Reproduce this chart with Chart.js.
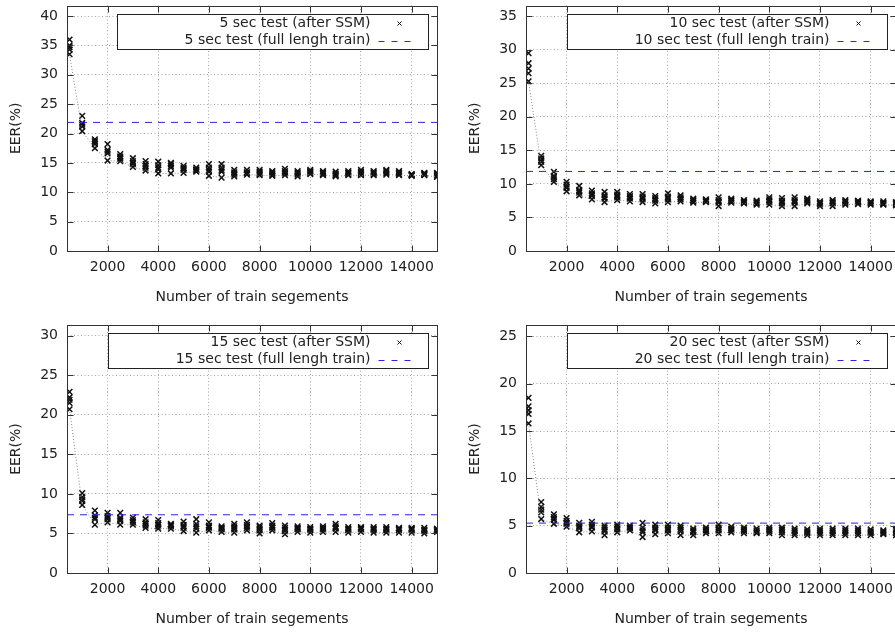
<!DOCTYPE html>
<html>
<head>
<meta charset="utf-8">
<script src="https://cdn.jsdelivr.net/npm/chart.js@4"></script>
<style>
html, body { margin: 0; padding: 0; background: #fff; overflow: hidden; width: 895px; height: 632px; }
canvas { position: absolute; }
</style>
</head>
<body>
<canvas id="chart5" width="448" height="310" style="left:0;top:0"></canvas>
<canvas id="chart10" width="448" height="310" style="left:459px;top:0"></canvas>
<canvas id="chart15" width="448" height="322" style="left:0;top:310px"></canvas>
<canvas id="chart20" width="448" height="322" style="left:459px;top:310px"></canvas>
<script>
// number of train segments (x of every cluster)
const seg_counts = [500, 1000, 1500, 2000, 2500, 3000, 3500, 4000, 4500, 5000,
    5500, 6000, 6500, 7000, 7500, 8000, 8500, 9000, 9500, 10000,
    10500, 11000, 11500, 12000, 12500, 13000, 13500, 14000, 14500, 15000];
const x_ticks = [2000, 4000, 6000, 8000, 10000, 12000, 14000];
const x_min = 400;
const x_max = 15000;

// 5 sec test, EER after SSM (several runs per segment count)
const eer5_run1 = [33.5, 20.4, 17.5, 15.4, 15.3, 14.3, 13.7, 13.2, 13.2, 13.3, 13.5, 12.8, 12.5, 12.7, 13.0, 12.9, 12.8, 12.9, 12.7, 13.1, 12.9, 12.7, 12.9, 12.9, 12.9, 13.0, 12.9, 12.8, 12.9, 12.6];
const eer5_run2 = [34.3, 21.2, 18.2, 16.6, 15.7, 14.8, 14.2, 13.9, 14.2, 13.8, 13.7, 13.5, 13.5, 13.0, 13.2, 13.1, 13.0, 13.2, 13.0, 13.3, 13.1, 12.9, 13.1, 13.1, 13.1, 13.2, 13.1, 12.9, 13.0, 12.8];
const eer5_run3 = [35.0, 21.8, 18.7, 17.2, 16.1, 15.3, 14.8, 14.6, 14.8, 14.2, 13.9, 14.2, 14.2, 13.4, 13.4, 13.5, 13.4, 13.6, 13.4, 13.6, 13.4, 13.2, 13.4, 13.5, 13.4, 13.6, 13.4, 13.0, 13.2, 13.1];
const eer5_run4 = [36.0, 23.0, 19.0, 18.2, 16.5, 15.8, 15.3, 15.2, 15.0, 14.5, 14.2, 14.8, 14.8, 13.8, 13.8, 13.8, 13.6, 14.0, 13.6, 13.8, 13.6, 13.5, 13.6, 13.8, 13.6, 13.8, 13.6, 13.1, 13.3, 13.3];
const eer5_run5 = [34.7, 21.5, 18.5, 16.9, 15.9, 15.0, 14.5, 14.2, 14.5, 14.0, 13.8, 13.8, 13.8, 13.2, 13.3, 13.3, 13.2, 13.4, 13.2, 13.5, 13.3, 13.0, 13.3, 13.3, 13.3, 13.4, 13.3, 13.0, 13.1, 13.0];
const eer5_full = 21.9;
const eer5_ymax = 41.8;
const eer5_yticks = [0, 5, 10, 15, 20, 25, 30, 35, 40];

// 10 sec test
const eer10_run1 = [25.3, 12.8, 10.3, 8.9, 8.3, 7.7, 7.3, 7.6, 7.4, 7.3, 7.1, 7.3, 7.4, 7.2, 7.3, 6.7, 7.2, 7.1, 6.9, 6.9, 6.7, 6.7, 7.1, 6.7, 6.7, 6.9, 7.0, 6.9, 6.9, 6.8];
const eer10_run2 = [26.5, 13.3, 10.7, 9.4, 8.7, 8.2, 7.8, 8.0, 7.8, 7.7, 7.5, 7.7, 7.7, 7.4, 7.4, 7.2, 7.4, 7.2, 7.1, 7.3, 7.1, 7.2, 7.3, 7.0, 7.1, 7.1, 7.2, 7.1, 7.0, 7.0];
const eer10_run3 = [28.0, 13.8, 11.2, 9.9, 9.1, 8.6, 8.3, 8.4, 8.2, 8.1, 7.9, 8.1, 8.0, 7.6, 7.6, 7.6, 7.6, 7.4, 7.3, 7.7, 7.5, 7.6, 7.6, 7.2, 7.4, 7.4, 7.4, 7.3, 7.2, 7.2];
const eer10_run4 = [29.5, 14.2, 11.8, 10.3, 9.7, 9.0, 8.8, 8.8, 8.5, 8.5, 8.2, 8.6, 8.3, 7.8, 7.7, 8.0, 7.8, 7.6, 7.5, 8.0, 7.9, 8.0, 7.8, 7.4, 7.6, 7.6, 7.5, 7.4, 7.4, 7.3];
const eer10_run5 = [27.2, 13.5, 11.0, 9.6, 8.9, 8.4, 8.0, 8.2, 8.0, 7.9, 7.7, 7.9, 7.8, 7.5, 7.5, 7.4, 7.5, 7.3, 7.2, 7.5, 7.3, 7.4, 7.5, 7.1, 7.2, 7.3, 7.3, 7.2, 7.1, 7.1];
const eer10_full = 11.86;
const eer10_ymax = 36.6;
const eer10_yticks = [0, 5, 10, 15, 20, 25, 30, 35];

// 15 sec test
const eer15_run1 = [20.7, 8.6, 6.1, 6.4, 6.1, 6.1, 5.7, 5.6, 5.6, 5.3, 5.1, 5.4, 5.2, 5.1, 5.4, 5.0, 5.4, 4.9, 5.2, 5.1, 5.2, 5.2, 5.1, 5.2, 5.1, 5.1, 5.1, 5.1, 5.0, 5.2];
const eer15_run2 = [21.5, 9.1, 6.8, 6.8, 6.6, 6.4, 6.0, 5.9, 5.9, 5.7, 5.6, 5.7, 5.5, 5.5, 5.7, 5.4, 5.7, 5.3, 5.5, 5.4, 5.5, 5.6, 5.4, 5.5, 5.4, 5.4, 5.4, 5.4, 5.3, 5.4];
const eer15_run3 = [22.2, 9.6, 7.3, 7.2, 7.0, 6.7, 6.4, 6.3, 6.1, 6.1, 6.2, 6.0, 5.7, 5.9, 6.1, 5.8, 6.0, 5.7, 5.7, 5.6, 5.7, 5.9, 5.6, 5.7, 5.6, 5.6, 5.6, 5.6, 5.5, 5.5];
const eer15_run4 = [22.9, 10.1, 7.9, 7.6, 7.6, 7.0, 6.8, 6.7, 6.2, 6.5, 6.8, 6.4, 5.9, 6.2, 6.4, 6.0, 6.3, 6.0, 5.9, 5.8, 5.9, 6.2, 5.8, 5.8, 5.8, 5.8, 5.7, 5.7, 5.7, 5.6];
const eer15_run5 = [21.9, 9.3, 7.0, 7.0, 6.8, 6.5, 6.2, 6.1, 6.0, 5.9, 5.9, 5.8, 5.6, 5.7, 5.9, 5.6, 5.8, 5.5, 5.6, 5.5, 5.6, 5.7, 5.5, 5.6, 5.5, 5.5, 5.5, 5.5, 5.4, 5.4];
const eer15_full = 7.36;
const eer15_ymax = 31.35;
const eer15_yticks = [0, 5, 10, 15, 20, 25, 30];

// 20 sec test
const eer20_run1 = [15.8, 5.7, 5.2, 4.9, 4.3, 4.4, 4.0, 4.3, 4.5, 3.8, 4.1, 4.2, 4.0, 4.0, 4.2, 4.2, 4.3, 4.2, 4.2, 4.2, 4.0, 4.0, 4.0, 4.0, 4.0, 4.0, 4.0, 4.0, 4.1, 4.0];
const eer20_run2 = [16.8, 6.4, 5.6, 5.2, 4.7, 4.8, 4.4, 4.6, 4.7, 4.3, 4.5, 4.5, 4.4, 4.3, 4.4, 4.5, 4.5, 4.4, 4.3, 4.4, 4.3, 4.2, 4.2, 4.2, 4.2, 4.2, 4.2, 4.2, 4.2, 4.2];
const eer20_run3 = [17.6, 7.0, 5.9, 5.5, 5.0, 5.1, 4.8, 4.9, 4.8, 4.8, 4.8, 4.8, 4.8, 4.5, 4.6, 4.8, 4.7, 4.6, 4.5, 4.6, 4.6, 4.5, 4.4, 4.5, 4.5, 4.5, 4.5, 4.4, 4.4, 4.5];
const eer20_run4 = [18.5, 7.5, 6.2, 5.8, 5.3, 5.4, 5.0, 5.1, 5.0, 5.3, 5.1, 5.1, 5.0, 4.7, 4.8, 5.1, 4.9, 4.8, 4.7, 4.8, 4.8, 4.7, 4.6, 4.7, 4.7, 4.7, 4.7, 4.6, 4.5, 4.6];
const eer20_run5 = [17.2, 6.7, 5.7, 5.3, 4.9, 4.9, 4.6, 4.7, 4.8, 4.5, 4.6, 4.6, 4.6, 4.4, 4.5, 4.6, 4.6, 4.5, 4.4, 4.5, 4.5, 4.4, 4.3, 4.4, 4.4, 4.4, 4.4, 4.3, 4.3, 4.3];
const eer20_full = 5.27;
const eer20_ymax = 26.2;
const eer20_yticks = [0, 5, 10, 15, 20, 25];

const FONT = {family: 'DejaVu Sans', size: 14};
const TEXT_COLOR = '#222';

function to_points(arr) {
    return seg_counts.map((s, i) => ({x: s, y: arr[i]}));
}

// gnuplot-like frame, inward ticks and boxed legend
const gnu_plugin = {
    id: 'gnu',
    afterDatasetsDraw(chart) {
        const ctx = chart.ctx;
        const a = chart.chartArea;
        const xs = chart.scales.x, ys = chart.scales.y;
        const l = Math.round(a.left) + 0.5, r = Math.round(a.right) + 0.5;
        const t = Math.round(a.top) + 0.5, b = Math.round(a.bottom) + 0.5;
        ctx.save();
        ctx.strokeStyle = '#333';
        ctx.lineWidth = 1;
        ctx.beginPath();
        for (const tk of xs.ticks) {
            const px = Math.round(xs.getPixelForValue(tk.value)) + 0.5;
            ctx.moveTo(px, b); ctx.lineTo(px, b - 6);
            ctx.moveTo(px, t); ctx.lineTo(px, t + 6);
        }
        for (const tk of ys.ticks) {
            const py = Math.round(ys.getPixelForValue(tk.value)) + 0.5;
            ctx.moveTo(l, py); ctx.lineTo(l + 6, py);
            ctx.moveTo(r, py); ctx.lineTo(r - 6, py);
        }
        ctx.stroke();
        ctx.strokeRect(l, t, r - l, b - t);
        ctx.restore();
    },
    afterDraw(chart, args, opts) {
        const ctx = chart.ctx;
        const a = chart.chartArea;
        ctx.save();
        ctx.font = FONT.size + 'px ' + FONT.family;
        const w = Math.max(ctx.measureText(opts.labels[0]).width, ctx.measureText(opts.labels[1]).width);
        const box_r = Math.round(a.right - 9) + 0.5;
        const text_r = box_r - 58;
        const box_l = Math.round(text_r - w - 68) + 0.5;
        const box_t = Math.round(a.top + 8) + 0.5;
        const box_h = 35;
        ctx.fillStyle = '#fff';
        ctx.fillRect(box_l, box_t, box_r - box_l, box_h);
        ctx.strokeStyle = '#222';
        ctx.lineWidth = 1;
        ctx.strokeRect(box_l, box_t, box_r - box_l, box_h);
        ctx.fillStyle = TEXT_COLOR;
        ctx.textAlign = 'right';
        ctx.textBaseline = 'middle';
        const y1 = box_t + 9, y2 = box_t + 26;
        ctx.fillText(opts.labels[0], text_r, y1);
        ctx.fillText(opts.labels[1], text_r, y2);
        // point sample
        const mx = text_r + 29;
        ctx.strokeStyle = '#111';
        ctx.beginPath();
        ctx.moveTo(mx - 2, y1 - 2); ctx.lineTo(mx + 2, y1 + 2);
        ctx.moveTo(mx - 2, y1 + 2); ctx.lineTo(mx + 2, y1 - 2);
        ctx.stroke();
        // line sample
        ctx.strokeStyle = opts.line_color;
        ctx.setLineDash([6, 7]);
        ctx.beginPath();
        ctx.moveTo(text_r + 8, Math.round(y2) + 0.5);
        ctx.lineTo(text_r + 44, Math.round(y2) + 0.5);
        ctx.stroke();
        ctx.restore();
    }
};

function create_panel(chart_id, sec, runs, full, y_max, y_ticks, pad_top) {
    const line_color = '#2626e0';
    const datasets = [{
        data: [{x: x_min, y: full}, {x: x_max, y: full}],
        showLine: true,
        borderColor: line_color,
        borderWidth: 1,
        borderDash: [7, 6],
        pointRadius: 0
    }];
    runs.forEach((run, k) => {
        datasets.push({
            data: to_points(run),
            showLine: k == 0,
            borderColor: '#8a8a8a',
            borderWidth: 1,
            borderDash: [1, 2],
            pointStyle: 'crossRot',
            pointRadius: 4,
            pointBorderWidth: 1.5,
            pointBorderColor: '#111',
            pointBackgroundColor: '#111'
        });
    });
    const ctx = document.getElementById(chart_id).getContext('2d');
    return new Chart(ctx, {
        type: 'scatter',
        data: {datasets: datasets},
        plugins: [gnu_plugin],
        options: {
            responsive: false,
            animation: false,
            events: [],
            layout: {padding: {left: 0, right: 11, top: pad_top, bottom: 0}},
            plugins: {
                legend: {display: false},
                tooltip: {enabled: false},
                gnu: {
                    labels: [sec + ' sec test (after SSM)', sec + ' sec test (full lengh train)'],
                    line_color: line_color
                }
            },
            scales: {
                x: {
                    type: 'linear',
                    min: x_min,
                    max: x_max,
                    afterBuildTicks: s => { s.ticks = x_ticks.map(v => ({value: v})); },
                    afterFit: s => { s.height = 59; s.paddingLeft = 0; s.paddingRight = 0; },
                    ticks: {
                        color: TEXT_COLOR, font: FONT, padding: 8,
                        autoSkip: false, maxRotation: 0,
                        callback: v => String(v)
                    },
                    grid: {color: '#a6a6a6', lineWidth: 1, drawTicks: false},
                    border: {display: false, dash: [1, 2.5]},
                    title: {
                        display: true, text: 'Number of train segements',
                        color: TEXT_COLOR, font: FONT, padding: {top: 0, bottom: 4}
                    }
                },
                y: {
                    type: 'linear',
                    min: 0,
                    max: y_max,
                    afterBuildTicks: s => { s.ticks = y_ticks.map(v => ({value: v})); },
                    afterFit: s => { s.width = 67; s.paddingTop = 0; s.paddingBottom = 0; },
                    ticks: {
                        color: TEXT_COLOR, font: FONT, padding: 9,
                        callback: v => String(v)
                    },
                    grid: {color: '#a6a6a6', lineWidth: 1, drawTicks: false},
                    border: {display: false, dash: [1, 2.5]},
                    title: {
                        display: true, text: 'EER(%)',
                        color: TEXT_COLOR, font: FONT, padding: {top: 8, bottom: 0}
                    }
                }
            }
        }
    });
}

Chart.defaults.font.family = 'DejaVu Sans';

let chart5 = create_panel('chart5', 5, [eer5_run1, eer5_run2, eer5_run3, eer5_run4, eer5_run5], eer5_full, eer5_ymax, eer5_yticks, 3);
let chart10 = create_panel('chart10', 10, [eer10_run1, eer10_run2, eer10_run3, eer10_run4, eer10_run5], eer10_full, eer10_ymax, eer10_yticks, 3);
let chart15 = create_panel('chart15', 15, [eer15_run1, eer15_run2, eer15_run3, eer15_run4, eer15_run5], eer15_full, eer15_ymax, eer15_yticks, 15);
let chart20 = create_panel('chart20', 20, [eer20_run1, eer20_run2, eer20_run3, eer20_run4, eer20_run5], eer20_full, eer20_ymax, eer20_yticks, 15);
</script>
</body>
</html>
